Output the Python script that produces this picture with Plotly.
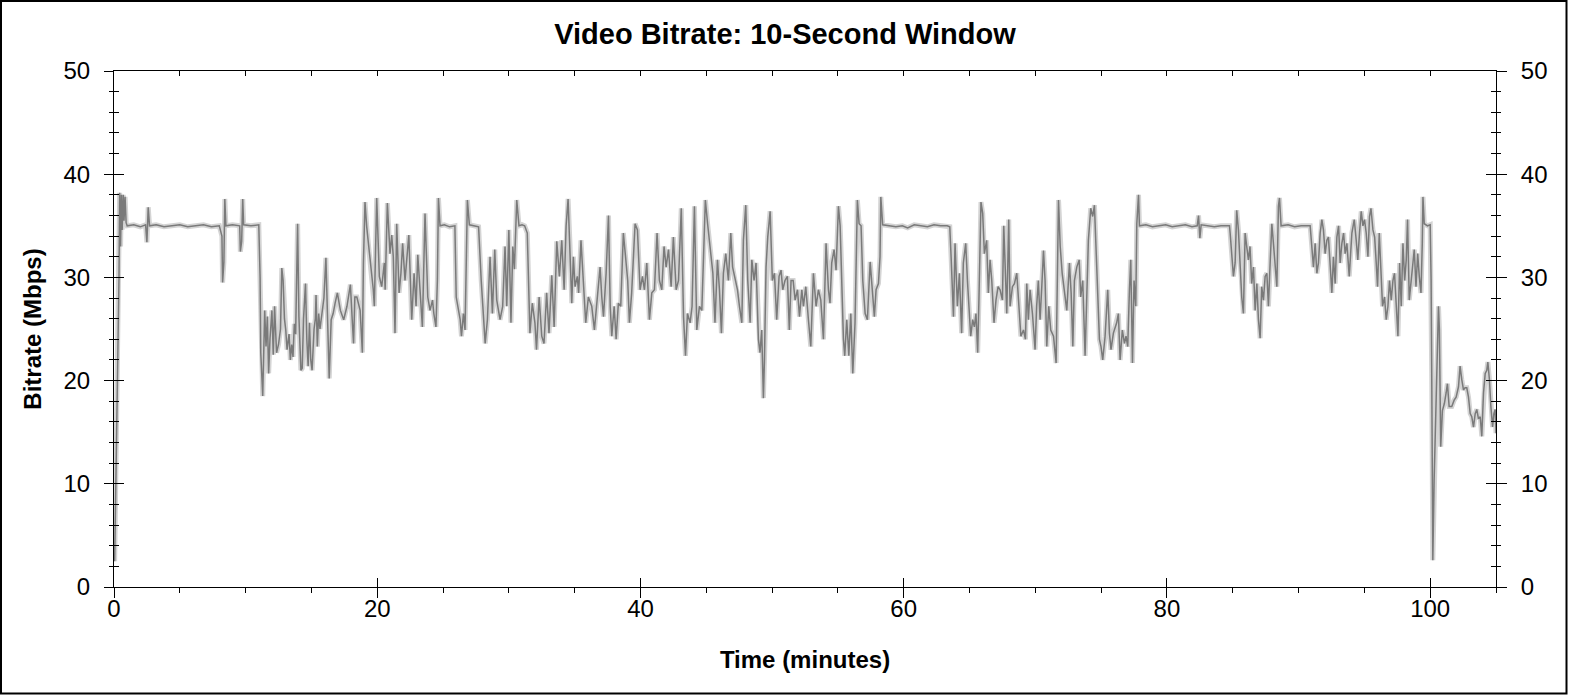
import plotly.graph_objects as go

# time stamps (minutes)
minutes = [
    0.05, 0.12, 0.2, 0.28, 0.33, 0.38, 0.43, 0.5, 0.56, 0.62, 0.7, 0.76, 0.84, 0.92, 1.0,
    1.5, 2.0, 2.4, 2.5, 2.6, 2.7, 3.2, 3.8, 4.4, 5.0, 5.6, 6.2, 6.8, 7.4, 8.0,
    8.2, 8.25, 8.35, 8.42, 8.5, 9.0, 9.55, 9.6, 9.7, 9.78, 9.85, 10.4, 11.0,
    11.1, 11.15, 11.3, 11.45, 11.55, 11.65, 11.75, 11.85, 12.0, 12.1, 12.2, 12.35, 12.5,
    12.65, 12.75, 12.85, 12.95, 13.05, 13.15, 13.3, 13.4, 13.5, 13.6, 13.7, 13.8, 13.95,
    14.05, 14.2, 14.3, 14.4, 14.55, 14.65, 14.75, 14.85, 14.95, 15.05, 15.2, 15.3, 15.35,
    15.45, 15.55, 15.65, 15.8, 15.95, 16.1, 16.2, 16.35, 16.5, 16.65, 16.8, 16.97, 17.2,
    17.45, 17.7, 17.96, 18.1, 18.2, 18.3, 18.45, 18.7, 18.87, 18.95, 19.07, 19.2, 19.45,
    19.7, 19.78, 19.96, 20.16, 20.34, 20.54, 20.6, 20.77, 20.97, 21.1, 21.22, 21.35, 21.48,
    21.66, 21.8, 21.93, 22.11, 22.24, 22.4, 22.62, 22.8, 22.95, 23.08, 23.25, 23.43, 23.63,
    23.84, 24.01, 24.2, 24.3, 24.46, 24.57, 24.65, 24.77, 25.1, 25.5, 25.9,
    26.0, 26.15, 26.3, 26.4, 26.55, 26.67, 26.75, 26.85, 27.0, 27.35, 27.7,
    27.9, 28.05, 28.2, 28.37, 28.57, 28.75, 28.93, 29.08, 29.33, 29.53, 29.71, 29.84, 30.0,
    30.16, 30.3, 30.42, 30.6, 30.77, 31.0, 31.2, 31.4,
    31.6, 31.78, 31.98, 32.1, 32.3, 32.5, 32.67, 32.87, 33.05, 33.26, 33.44, 33.64, 33.84,
    34.02, 34.2, 34.35, 34.5, 34.65, 34.78, 34.9, 35.03, 35.2, 35.3, 35.48, 35.66, 35.84,
    36.04, 36.3, 36.5, 36.73, 36.93, 37.06, 37.19, 37.39, 37.57, 37.7, 37.82, 38.0, 38.15,
    38.32, 38.5, 38.7, 38.9, 39.03, 39.16, 39.33, 39.59, 39.77, 39.97, 40.15, 40.3, 40.48,
    40.68, 40.86, 41.06, 41.26, 41.44, 41.62, 41.79, 41.95, 42.13, 42.33, 42.5, 42.71, 42.89,
    43.1, 43.27, 43.42, 43.57, 43.77, 43.92, 44.1, 44.28, 44.48, 44.66, 44.8, 44.93, 45.1,
    45.3, 45.5, 45.66, 45.85, 46.0, 46.15, 46.3, 46.48, 46.68, 46.86, 47.0, 47.19, 47.37,
    47.52, 47.7, 47.82, 48.0, 48.15, 48.33, 48.46, 48.63, 48.78, 48.96, 49.08, 49.21, 49.34,
    49.42, 49.54, 49.67, 49.85, 50.02, 50.18, 50.35, 50.53, 50.68, 50.81, 50.98, 51.16, 51.31,
    51.44, 51.6, 51.75, 51.93, 52.08, 52.26, 52.38, 52.56, 52.76, 52.94, 53.14, 53.34, 53.52,
    53.7, 53.9, 54.1, 54.28, 54.4, 54.53, 54.71, 54.86, 55.04, 55.17, 55.3, 55.42, 55.52,
    55.67, 55.83, 55.98, 56.13, 56.3, 56.48, 56.61, 56.76, 56.89, 57.07, 57.24, 57.45, 57.62,
    57.77, 57.9, 58.08, 58.2, 58.26, 58.4,
    58.9, 59.4, 59.9, 60.3, 60.8, 61.3, 61.8, 62.3, 62.8, 63.3, 63.5,
    63.6, 63.78, 63.9, 64.08, 64.23, 64.4, 64.53, 64.71, 64.84, 64.96, 65.09, 65.24, 65.37,
    65.49, 65.62, 65.72, 65.87, 66.0, 66.13, 66.3, 66.43, 66.56, 66.69, 66.86, 67.01, 67.17,
    67.32, 67.5, 67.6, 67.7, 67.83, 67.98, 68.08, 68.26, 68.41, 68.59, 68.74, 68.9, 69.1,
    69.25, 69.35, 69.47, 69.6, 69.78, 69.98, 70.1, 70.23, 70.36, 70.49, 70.62, 70.74, 70.87,
    71.02, 71.17, 71.38, 71.58, 71.76, 71.89, 72.04, 72.21, 72.39, 72.59, 72.72, 72.85, 72.97,
    73.15, 73.33, 73.45, 73.6, 73.78, 73.9, 74.03, 74.21, 74.36, 74.49, 74.61, 74.74, 74.87,
    74.99, 75.12, 75.3, 75.5, 75.63, 75.75, 75.93, 76.06, 76.18, 76.31, 76.44, 76.61, 76.77,
    76.89, 77.02, 77.15, 77.25, 77.38, 77.5, 77.63, 77.71, 77.84, 77.91,
    78.4, 78.9, 79.4, 79.9, 80.4, 80.9, 81.4, 81.9, 82.3, 82.4, 82.5, 82.6, 83.1, 83.6,
    84.1, 84.75,
    84.8, 84.93, 85.05, 85.18, 85.3, 85.43, 85.56, 85.68, 85.81, 85.94, 86.06, 86.19, 86.31,
    86.44, 86.57, 86.7, 86.83, 86.95, 87.08, 87.2, 87.33, 87.46, 87.59, 87.71, 87.84, 87.97,
    88.09, 88.22, 88.35, 88.47, 88.55, 88.67, 89.2, 89.7, 90.2, 90.88,
    91.0, 91.13, 91.26, 91.39, 91.51, 91.64, 91.77, 91.89, 92.02, 92.15, 92.27, 92.4, 92.53,
    92.65, 92.78, 92.91, 93.04, 93.16, 93.29, 93.42, 93.54, 93.67, 93.85, 94.05, 94.23, 94.38,
    94.5, 94.63, 94.76, 94.89, 95.01, 95.14, 95.27, 95.39, 95.5, 95.65, 95.78, 95.9, 96.0,
    96.13, 96.26, 96.38, 96.53, 96.66, 96.79, 96.91, 97.04, 97.17, 97.29, 97.42, 97.55, 97.68,
    97.8, 97.93, 98.06, 98.18, 98.28, 98.41, 98.54, 98.67, 98.79, 98.92, 99.05, 99.17, 99.3,
    99.4, 99.45, 99.55, 99.8, 100.0,
    100.07, 100.12, 100.2, 100.3, 100.43, 100.5, 100.63, 100.7, 100.8, 100.93, 101.08, 101.21,
    101.31, 101.44, 101.64, 101.82, 101.97, 102.15, 102.27, 102.4, 102.53, 102.65, 102.78,
    102.91, 103.04, 103.16, 103.29, 103.42, 103.54, 103.67, 103.8, 103.92, 104.05, 104.18,
    104.3, 104.38, 104.5, 104.61, 104.74, 104.84, 104.94, 105.0,
]

# 10-second window bitrate (Mbps) at each time stamp
mbps = [
    2.5, 8, 15, 22, 23.3, 30, 38.2, 33, 38, 34.6, 38, 35.5, 37.8, 35.3, 35.0,
    35.1, 34.9, 35.1, 33.4, 36.8, 35.0, 35.1, 34.9, 35.0, 35.1, 34.9, 35.0, 35.1, 34.9, 35.0,
    34.0, 29.5, 31.5, 37.6, 35.0, 35.1, 35.0, 32.5, 33.5, 37.6, 35.1, 35.0, 35.1,
    30.0, 22.7, 18.5, 26.8, 23.3, 26.2, 20.7, 24.0, 26.8, 22.5, 27.2, 22.7, 23.5,
    25.0, 30.9, 29.7, 26.0, 24.9, 23.0, 24.5, 22.0, 23.5, 22.3, 25.5, 24.5, 35.2,
    26.2, 21.0, 21.2, 26.0, 29.4, 24.0, 21.4, 25.6, 22.0, 21.0, 25.0, 26.0, 28.3,
    23.3, 26.5, 25.0, 26.8, 28.0, 31.9, 28.0, 20.2, 25.9, 26.5, 27.5, 28.5, 26.8,
    25.9, 27.2, 29.3, 25.9, 23.6, 28.1, 28.1, 26.8, 22.7, 31.4, 37.3, 34.9, 32.0,
    28.8, 27.2, 37.7, 30.1, 29.1, 31.4, 28.8, 37.2, 32.3, 34.1, 32.0, 24.6, 35.2,
    28.5, 30.4, 33.3, 29.7, 31.7, 34.1, 25.9, 30.4, 27.2, 32.2, 28.8, 25.2, 36.2,
    28.1, 26.8, 27.8, 26.5, 25.2, 29.7, 37.7, 35.0, 35.1, 34.9, 35.0,
    28.1, 27.0, 25.9, 24.3, 26.5, 24.9, 30.0, 37.5, 35.1, 35.0, 34.9,
    29.7, 27.0, 23.6, 25.9, 32.0, 26.5, 32.7, 27.8, 25.9, 27.2, 33.0, 27.2, 34.6,
    25.6, 33.0, 30.8, 37.5, 35.0, 35.1, 35.0, 34.3,
    24.6, 27.5, 25.6, 23.0, 28.1, 24.3, 23.6, 28.5, 24.6, 30.2, 25.2, 33.5, 30.1,
    33.6, 28.8, 35.0, 37.6, 33.0, 27.5, 32.0, 29.1, 30.1, 28.5, 33.6, 30.1, 25.6,
    28.1, 27.2, 24.9, 28.5, 31.0, 28.1, 26.2, 30.4, 36.0, 27.2, 24.3, 27.2, 24.0,
    27.5, 27.2, 34.3, 31.4, 29.7, 25.6, 28.5, 35.2, 34.6, 28.8, 30.1, 28.8, 31.4,
    25.9, 28.5, 28.8, 34.3, 29.7, 28.8, 33.0, 31.0, 32.7, 29.1, 33.9, 28.8, 29.7,
    36.7, 26.2, 22.4, 26.5, 25.6, 27.2, 36.9, 24.9, 27.2, 26.8, 32.0, 37.5, 35.2,
    33.0, 30.4, 25.6, 31.7, 28.8, 24.6, 30.4, 32.3, 29.7, 34.3, 31.0, 29.7, 28.8,
    27.2, 25.6, 33.6, 37.0, 29.7, 25.6, 31.7, 29.7, 31.4, 24.0, 22.7, 24.9, 18.3,
    22.0, 31.0, 33.9, 36.4, 29.7, 30.4, 25.9, 30.1, 30.7, 28.8, 29.7, 30.1, 24.9,
    29.7, 29.7, 27.8, 28.8, 26.2, 28.8, 27.2, 29.1, 25.9, 23.3, 30.4, 27.2, 28.8,
    27.8, 24.0, 33.3, 28.8, 27.5, 31.4, 32.7, 30.7, 36.9, 35.0, 29.1, 24.0, 22.4,
    25.9, 22.4, 26.5, 20.7, 25.6, 37.5, 35.2, 35.0, 29.7, 26.5, 25.9, 31.5, 28.8,
    26.2, 28.8, 29.4, 32.0, 37.8, 35.1,
    35.0, 34.9, 35.0, 34.8, 35.1, 35.0, 34.9, 35.1, 35.0, 35.0, 34.9,
    32.0, 26.2, 33.3, 27.2, 30.4, 24.6, 31.4, 33.3, 29.7, 27.2, 24.3, 25.9, 25.2,
    26.5, 22.7, 28.1, 37.3, 36.2, 32.3, 33.6, 28.5, 31.7, 29.7, 25.6, 27.8, 29.1,
    28.8, 27.8, 35.0, 31.4, 26.5, 35.6, 27.2, 29.1, 29.4, 30.4, 27.2, 24.3, 24.9,
    24.0, 29.4, 25.9, 28.8, 26.5, 23.0, 27.2, 29.7, 25.9, 29.1, 32.6, 29.7, 23.3,
    27.2, 24.9, 24.3, 21.7, 37.5, 33.0, 30.4, 28.8, 26.8, 31.4, 28.5, 23.3, 29.7,
    31.0, 31.7, 28.1, 29.7, 22.4, 29.1, 33.6, 36.7, 35.9, 37.0, 33.0, 27.2, 24.0,
    23.3, 22.0, 24.3, 28.8, 24.6, 23.0, 24.6, 25.2, 25.6, 26.5, 22.0, 24.9, 23.6,
    24.3, 23.3, 28.8, 31.7, 21.7, 29.7, 27.2, 35.2, 38.0, 35.0,
    35.1, 34.9, 35.0, 35.1, 34.9, 35.0, 35.1, 34.9, 35.0, 36.0, 33.8, 35.1, 35.0, 34.9,
    35.0, 35.0,
    34.3, 32.0, 30.1, 31.4, 36.5, 34.6, 31.0, 28.1, 26.5, 34.3, 33.0, 31.7, 33.0,
    29.4, 31.0, 26.8, 29.4, 25.9, 24.1, 29.1, 27.8, 30.1, 30.4, 27.2, 31.4, 35.2,
    33.3, 31.0, 29.1, 36.9, 37.7, 35.0, 35.1, 34.9, 35.0, 35.0,
    33.0, 31.0, 33.3, 30.4, 31.4, 34.3, 35.6, 34.6, 32.3, 33.6, 33.9, 31.4, 28.5,
    32.0, 29.4, 33.9, 35.0, 31.4, 33.3, 34.3, 32.3, 33.3, 30.1, 34.3, 35.6, 33.6,
    31.7, 34.3, 36.4, 35.0, 35.6, 34.3, 32.0, 35.9, 36.7, 34.6, 33.9, 31.4, 29.1,
    34.3, 30.4, 27.2, 28.1, 25.9, 27.2, 29.7, 27.8, 29.7, 30.4, 26.8, 24.3, 31.4,
    27.2, 33.3, 29.7, 31.7, 35.6, 27.8, 29.7, 31.0, 32.7, 29.1, 32.3, 30.1, 28.5,
    33.3, 37.8, 35.2, 35.0, 35.1,
    29.7, 20.1, 2.6, 10.4, 16.8, 20.1, 27.2, 24.9, 13.6, 17.1, 17.8, 18.8,
    19.7, 17.5, 17.5, 18.1, 18.4, 19.4, 21.4, 20.1, 19.1, 19.3, 19.3,
    18.4, 16.8, 16.5, 15.5, 16.8, 17.2, 16.3, 16.5, 14.6, 18.8, 20.7,
    21.0, 21.8, 20.1, 17.5, 15.5, 16.8, 17.2, 14.9,
]

x_ticks = [0, 20, 40, 60, 80, 100]
y_ticks = [0, 10, 20, 30, 40, 50]

fig = go.Figure()

# light gray band under the line
fig.add_trace(
    go.Scatter(
        x=minutes,
        y=mbps,
        mode="lines",
        line=dict(color="#d4d4d4", width=5),
        hoverinfo="skip"
    )
)

# bitrate line
fig.add_trace(
    go.Scatter(
        x=minutes,
        y=mbps,
        mode="lines",
        name="bitrate",
        line=dict(color="#7a7a7a", width=1.5)
    )
)

# empty traces so the extra tick axes get drawn
for xa, ya in [("x2", "y2"), ("x3", "y3"), ("x3", "y4")]:
    fig.add_trace(go.Scatter(x=[], y=[], xaxis=xa, yaxis=ya, hoverinfo="skip"))

tick_font = dict(family="Arial", size=24, color="black")
title_font = dict(family="Arial", size=24, color="black")

fig.update_layout(
    # bottom axis line with ticks pointing down
    xaxis=dict(
        range=[0, 105], tickvals=x_ticks, ticks="outside", ticklen=10,
        tickcolor="black", showline=True, linecolor="black", linewidth=1,
        showgrid=False, zeroline=False, showticklabels=False,
        minor=dict(ticks="outside", ticklen=5, dtick=5, tickcolor="black", showgrid=False),
    ),
    # major ticks pointing up, plus the labels and title
    xaxis2=dict(
        overlaying="x", anchor="y", side="bottom", range=[0, 105], tickvals=x_ticks,
        ticks="inside", ticklen=9, tickcolor="black", showticklabels=True,
        tickfont=tick_font, ticklabelstandoff=5,
        showline=False, showgrid=False, zeroline=False,
        title=dict(text="<b>Time (minutes)</b>", font=title_font, standoff=30),
    ),
    # top frame with short ticks
    xaxis3=dict(
        overlaying="x", anchor="y", side="top", range=[0, 105], dtick=5,
        ticks="inside", ticklen=5, tickcolor="black", showticklabels=False,
        showline=True, linecolor="black", linewidth=1, showgrid=False, zeroline=False,
    ),
    yaxis=dict(
        range=[0, 50], tickvals=y_ticks, ticks="outside", ticklen=9,
        tickcolor="black", showline=True, linecolor="black", linewidth=1,
        showgrid=False, zeroline=False, tickfont=tick_font, ticklabelstandoff=9,
        minor=dict(ticks="outside", ticklen=4, dtick=2, tickcolor="black", showgrid=False),
        title=dict(text="<b>Bitrate (Mbps)</b>", font=title_font, standoff=15),
    ),
    # right axis with labels
    yaxis2=dict(
        overlaying="y", anchor="x", side="right", range=[0, 50], tickvals=y_ticks,
        ticks="outside", ticklen=10, tickcolor="black", showline=True, linecolor="black",
        linewidth=1, showgrid=False, zeroline=False, tickfont=tick_font, ticklabelstandoff=9,
        minor=dict(ticks="outside", ticklen=4, dtick=2, tickcolor="black", showgrid=False),
    ),
    # inside halves of the crossing ticks
    yaxis3=dict(
        overlaying="y", anchor="x", side="left", range=[0, 50], tickvals=y_ticks,
        ticks="inside", ticklen=10, tickcolor="black", showticklabels=False,
        showline=False, showgrid=False, zeroline=False,
        minor=dict(ticks="inside", ticklen=5, dtick=2, tickcolor="black", showgrid=False),
    ),
    yaxis4=dict(
        overlaying="y", anchor="x", side="right", range=[0, 50], tickvals=y_ticks,
        ticks="inside", ticklen=10, tickcolor="black", showticklabels=False,
        showline=False, showgrid=False, zeroline=False,
        minor=dict(ticks="inside", ticklen=5, dtick=2, tickcolor="black", showgrid=False),
    ),
)

# outer border around the whole picture
W, H = 1570, 695
L, R, T, B = 114, 74, 71, 108
pw, ph = W - L - R, H - T - B
fig.add_shape(
    type="rect", xref="paper", yref="paper",
    x0=(1 - L) / pw, x1=(1566.5 - L) / pw,
    y0=(ph + T - 693.5) / ph, y1=(ph + T - 1) / ph,
    line=dict(color="black", width=2)
)

fig.update_layout(
    width=W,
    height=H,
    margin=dict(l=L, r=R, t=T, b=B, pad=0),
    showlegend=False,
    plot_bgcolor="white",
    paper_bgcolor="white",
    font=dict(family="Arial", color="black"),
    title=dict(
        text="<b>Video Bitrate: 10-Second Window</b>",
        font=dict(family="Arial", size=29, color="black"),
        x=0.5, xref="container", xanchor="center",
        y=1 - 34 / H, yref="container", yanchor="middle"
    ),
)

# drop the default page margin so the figure sits at the window corner
fig.write_html(
    "out.html",
    config={"displayModeBar": False},
    post_script="document.body.style.margin = '0';"
)
